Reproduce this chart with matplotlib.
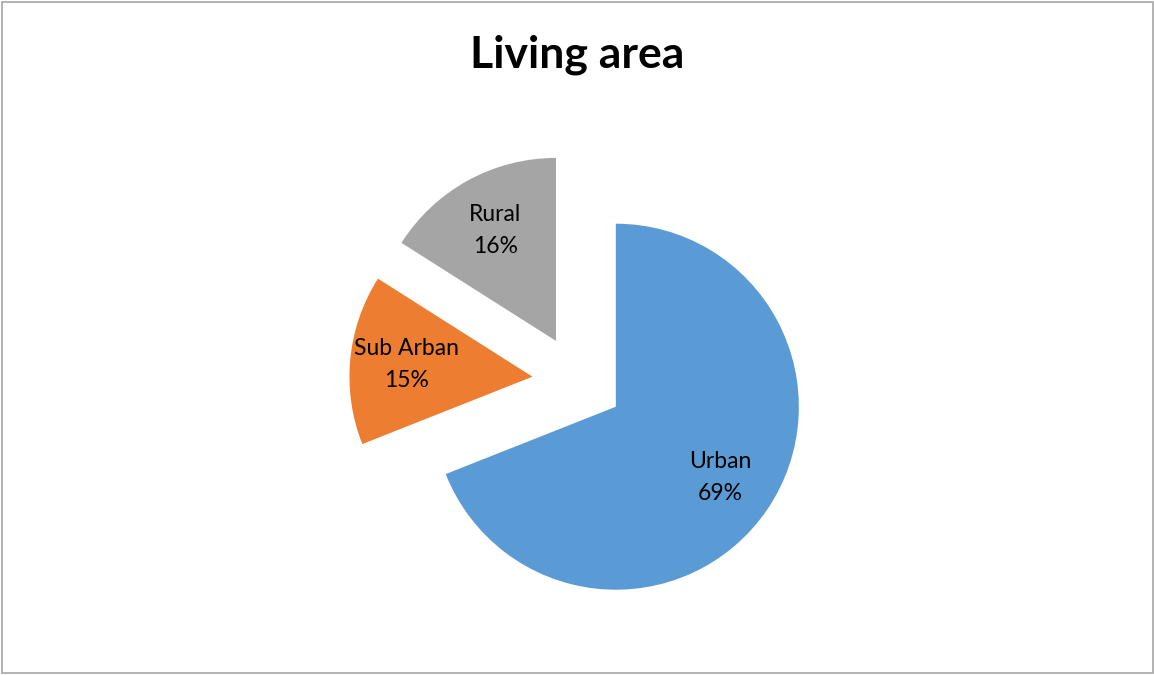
import matplotlib
matplotlib.use("Agg")
import matplotlib.pyplot as plt
from matplotlib.patches import Rectangle

# living area shares (percent)
areas = ["Urban", "Sub Arban", "Rural"]
shares = [69, 15, 16]
colors = ["#5B9BD5", "#ED7D31", "#A5A5A5"]

plt.rcParams["font.family"] = ["Lato", "DejaVu Sans"]

W, H = 1154, 675
fig = plt.figure(figsize=(W / 100, H / 100), dpi=100)

# axes in units of pie radius (183 px), centred where the pie sits
r = 183.0
cx, cy = 578, 381
ax = fig.add_axes([0, 0, 1, 1])

labels = [f"{a}\n{s}%" for a, s in zip(areas, shares)]
wedges, texts = ax.pie(shares, labels=labels, colors=colors,
                       startangle=90, counterclock=False,
                       explode=[0.25] * 3, radius=1,
                       labeldistance=0.69,
                       wedgeprops=dict(linewidth=0),
                       textprops=dict(fontsize=16.5, color="black",
                                      linespacing=1.65))
for t in texts:
    t.set_ha("center")
    t.set_va("center")

# pie() resets the limits, so set them afterwards
ax.set_xlim(-cx / r, (W - cx) / r)
ax.set_ylim(-(H - cy) / r, cy / r)
ax.set_aspect("equal")
ax.axis("off")

fig.text(0.5, 1 - 55 / H, "Living area", ha="center", va="center",
         fontsize=32, fontweight="bold")

# thin grey frame around the chart
fig.patches.append(Rectangle((1.5 / W, 2.5 / H), (W - 3) / W, (H - 4.5) / H,
                             transform=fig.transFigure, fill=False,
                             edgecolor="#A6A6A6", linewidth=1.2))

fig.savefig("out.png", dpi=100, facecolor="white")
